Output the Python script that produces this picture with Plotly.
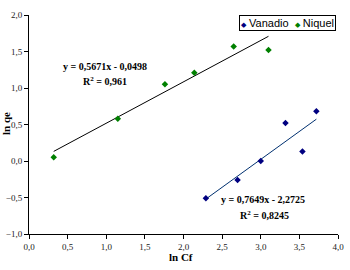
import plotly.graph_objects as go

# Data
niquel_x = [0.32, 1.15, 1.76, 2.14, 2.65, 3.10]
niquel_y = [0.05, 0.58, 1.05, 1.21, 1.57, 1.52]
vanadio_x = [2.29, 2.70, 3.00, 3.32, 3.54, 3.72]
vanadio_y = [-0.51, -0.26, 0.00, 0.52, 0.13, 0.68]

# Trendline coefficients shown on the chart
niquel_slope, niquel_intercept = 0.5671, -0.0498
vanadio_slope, vanadio_intercept = 0.7649, -2.2725
niquel_eq = ["y = 0,5671x - 0,0498", "R<sup>2</sup> = 0,961"]
vanadio_eq = ["y = 0,7649x - 2,2725", "R<sup>2</sup> = 0,8245"]

x_ticks = [0.0, 0.5, 1.0, 1.5, 2.0, 2.5, 3.0, 3.5, 4.0]
y_ticks = [-1.0, -0.5, 0.0, 0.5, 1.0, 1.5, 2.0]

green = "#008000"
navy = "#000080"

W, H = 350, 270
ML, MR, MT, MB = 29, 12, 15, 36
PW, PH = W - ML - MR, H - MT - MB

def px(x):
    return (x - ML) / PW

def py(y):
    return (H - MB - y) / PH

def line_pts(xs, m, b):
    x0, x1 = min(xs), max(xs)
    return [x0, x1], [m * x0 + b, m * x1 + b]

fig = go.Figure()
nx, ny = line_pts(niquel_x, niquel_slope, niquel_intercept)
vx, vy = line_pts(vanadio_x, vanadio_slope, vanadio_intercept)
fig.add_trace(go.Scatter(x=nx, y=ny, mode="lines", line=dict(color="black", width=1), showlegend=False))
fig.add_trace(go.Scatter(x=vx, y=vy, mode="lines", line=dict(color="#003070", width=1), showlegend=False))
fig.add_trace(go.Scatter(x=vanadio_x, y=vanadio_y, mode="markers", name="Vanadio",
                         marker=dict(symbol="diamond", size=5, color=navy), showlegend=False))
fig.add_trace(go.Scatter(x=niquel_x, y=niquel_y, mode="markers", name="Niquel",
                         marker=dict(symbol="diamond", size=5, color=green), showlegend=False))

serif = "Liberation Serif"
axis_common = dict(showgrid=False, zeroline=False, showline=True, linecolor="black", linewidth=1,
                   ticks="outside", ticklen=4, tickcolor="black", tickformat=".1f", automargin=False,
                   tickfont=dict(family=serif, size=9, color="#222"))

fig.update_layout(
    width=W, height=H,
    margin=dict(l=ML, r=MR, t=MT, b=MB),
    plot_bgcolor="white", paper_bgcolor="white",
    separators=",.",
    xaxis=dict(range=[0, 4], tickvals=x_ticks, **axis_common),
    yaxis=dict(range=[-1, 2], tickvals=y_ticks, **axis_common),
    showlegend=False,
)

bold = dict(family=serif, size=10, color="black")
annots = [
    dict(x=105, y=66, text="<b>" + niquel_eq[0] + "</b>"),
    dict(x=105, y=81, text="<b>" + niquel_eq[1] + "</b>"),
    dict(x=263, y=199, text="<b>" + vanadio_eq[0] + "</b>"),
    dict(x=264, y=215, text="<b>" + vanadio_eq[1] + "</b>"),
]
for a in annots:
    fig.add_annotation(x=px(a["x"]), y=py(a["y"]), xref="paper", yref="paper",
                       text=a["text"], showarrow=False, font=bold, xanchor="center", yanchor="middle")

# axis titles
fig.add_annotation(x=px(6), y=py(124), xref="paper", yref="paper", text="<b>ln qe</b>",
                   textangle=-90, showarrow=False, font=dict(family=serif, size=11, color="black"),
                   xanchor="center", yanchor="middle")
fig.add_annotation(x=px(181), y=py(257), xref="paper", yref="paper", text="<b>ln Cf</b>",
                   showarrow=False, font=dict(family=serif, size=11, color="black"),
                   xanchor="center", yanchor="middle")

# legend box
legend_text = ("<span style='color:%s;font-size:7px'>◆</span> Vanadio  "
               "<span style='color:%s;font-size:7px'>◆</span> Niquel") % (navy, green)
fig.add_annotation(x=px(287), y=py(23), xref="paper", yref="paper", text=legend_text,
                   showarrow=False, font=dict(family="Liberation Sans", size=11, color="black"),
                   xanchor="center", yanchor="middle", bordercolor="black", borderwidth=1,
                   borderpad=1, bgcolor="white")

fig.write_html("out.html", config={"displayModeBar": False},
               post_script="document.body.style.margin='0';")
